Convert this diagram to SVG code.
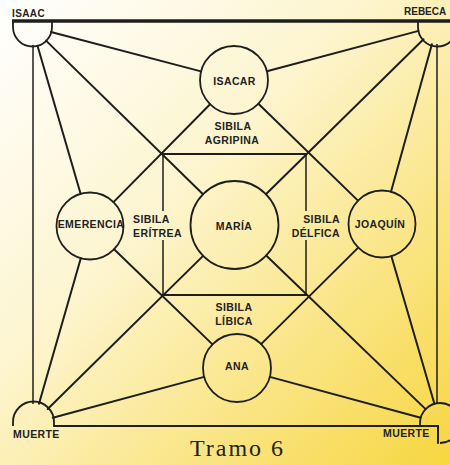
<svg xmlns="http://www.w3.org/2000/svg" width="450" height="465" viewBox="0 0 450 465">
  <defs>
    <linearGradient id="paper" x1="0" y1="0" x2="1" y2="1">
      <stop offset="0" stop-color="#ffffff"/>
      <stop offset="0.4" stop-color="#fdf5cf"/>
      <stop offset="1" stop-color="#f7d640"/>
    </linearGradient>
    <style>
      .ln { stroke: #1e1e1e; stroke-width: 2; fill: none; stroke-linecap: round; }
      .thin { stroke: #1e1e1e; stroke-width: 1.5; fill: none; }
      .node { stroke: #1e1e1e; stroke-width: 1.8; fill: none; }
      .lbl { font-family: "Liberation Sans", Arial, sans-serif; font-weight: bold; font-size: 10.5px; fill: #222; letter-spacing: 0.4px; }
      .mid { text-anchor: middle; }
      .title { font-family: "Liberation Serif", "Times New Roman", serif; font-size: 24px; fill: #222; }
    </style>
  </defs>

  <rect x="0" y="0" width="450" height="465" fill="url(#paper)"/>

  <!-- frame: top bar, side verticals, bottom bar -->
  <g id="frame">
    <path d="M12,21 H450" stroke="#1e1e1e" stroke-width="3.5" fill="none"/>
    <path class="thin" d="M33,45 V404"/>
    <path class="thin" d="M437,44 V403"/>
    <path class="ln" d="M54,426 H438 V443"/>
  </g>

  <g id="connectors">
    <!-- corner ISAAC -->
    <line class="ln" x1="51" y1="32" x2="201" y2="71.4"/>
    <line class="ln" x1="37.5" y1="45.7" x2="80.6" y2="193.8"/>
    <line class="ln" x1="46" y1="40.6" x2="203" y2="194.2"/>
    <!-- corner REBECA -->
    <line class="ln" x1="418.6" y1="30.9" x2="266.9" y2="71.3"/>
    <line class="ln" x1="431.9" y1="44.3" x2="391" y2="191.7"/>
    <line class="ln" x1="423.5" y1="39.3" x2="265.9" y2="194.2"/>
    <!-- corner MUERTE (left) -->
    <line class="ln" x1="39" y1="403.8" x2="80.8" y2="258.2"/>
    <line class="ln" x1="52.8" y1="417.8" x2="204.2" y2="376.9"/>
    <line class="ln" x1="47.7" y1="409" x2="203.1" y2="255.9"/>
    <!-- corner MUERTE (right) -->
    <line class="ln" x1="434.4" y1="403.8" x2="391.4" y2="256.2"/>
    <line class="ln" x1="420.7" y1="417.8" x2="269.8" y2="376.9"/>
    <line class="ln" x1="425.6" y1="409.1" x2="266.2" y2="255.5"/>
    <!-- diamond -->
    <line class="ln" x1="113.5" y1="202.1" x2="210.1" y2="104.2"/>
    <line class="ln" x1="258.4" y1="103.7" x2="358" y2="200.6"/>
    <line class="ln" x1="358.2" y1="247.6" x2="261.1" y2="344.1"/>
    <line class="ln" x1="212.5" y1="344.4" x2="114.1" y2="249.3"/>
    <!-- inner square -->
    <line class="ln" x1="163" y1="154" x2="306" y2="154"/>
    <line class="ln" x1="163" y1="295" x2="306" y2="295"/>
    <path class="thin" d="M163,154 V211 M163,240 V295"/>
    <path class="thin" d="M306,154 V211 M306,240 V295"/>
  </g>

  <g id="isaac">
    <path class="node" d="M13,22 V27 A19.5,19.5 0 0 0 52,27 V22"/>
    <text class="lbl" x="12" y="17" style="font-size:10px">ISAAC</text>
  </g>

  <g id="rebeca">
    <path class="node" d="M418,22 V27 A19.5,19.5 0 0 0 457,27"/>
    <text class="lbl" x="404" y="15" style="font-size:10px;letter-spacing:0">REBECA</text>
  </g>

  <g id="muerte-left">
    <path class="node" d="M13,426 V422 A20.5,20.5 0 0 1 54,422 V426"/>
    <text class="lbl" x="13" y="438">MUERTE</text>
  </g>

  <g id="muerte-right">
    <path class="node" d="M420,426 V423 A20,20 0 0 1 460,423 M440,443 A20,20 0 0 0 460,423"/>
    <text class="lbl" x="383" y="437">MUERTE</text>
  </g>

  <g id="isacar">
    <circle class="node" cx="234" cy="80" r="34"/>
    <text class="lbl mid" x="234.5" y="85">ISACAR</text>
  </g>

  <g id="maria">
    <circle class="node" cx="234.5" cy="225" r="44"/>
    <text class="lbl mid" x="234" y="230">MARÍA</text>
  </g>

  <g id="emerencia">
    <circle class="node" cx="90" cy="226" r="33.5"/>
    <text class="lbl mid" x="91" y="228">EMERENCIA</text>
  </g>

  <g id="joaquin">
    <circle class="node" cx="382" cy="224" r="33.5"/>
    <text class="lbl mid" x="380" y="228">JOAQUÍN</text>
  </g>

  <g id="ana">
    <circle class="node" cx="237" cy="368" r="34"/>
    <text class="lbl mid" x="237" y="370">ANA</text>
  </g>

  <g id="sibila-agripina">
    <text class="lbl mid" x="233" y="130">SIBILA</text>
    <text class="lbl mid" x="232" y="144">AGRIPINA</text>
  </g>

  <g id="sibila-eritrea">
    <text class="lbl" x="133" y="223">SIBILA</text>
    <text class="lbl" x="133" y="237">ERÍTREA</text>
  </g>

  <g id="sibila-delfica">
    <text class="lbl" x="340" y="223" text-anchor="end">SIBILA</text>
    <text class="lbl" x="340" y="237" text-anchor="end">DÉLFICA</text>
  </g>

  <g id="sibila-libica">
    <text class="lbl mid" x="234" y="311">SIBILA</text>
    <text class="lbl mid" x="234" y="325">LÍBICA</text>
  </g>

  <text class="title" x="190" y="456" textLength="93" lengthAdjust="spacing">Tramo 6</text>
</svg>
